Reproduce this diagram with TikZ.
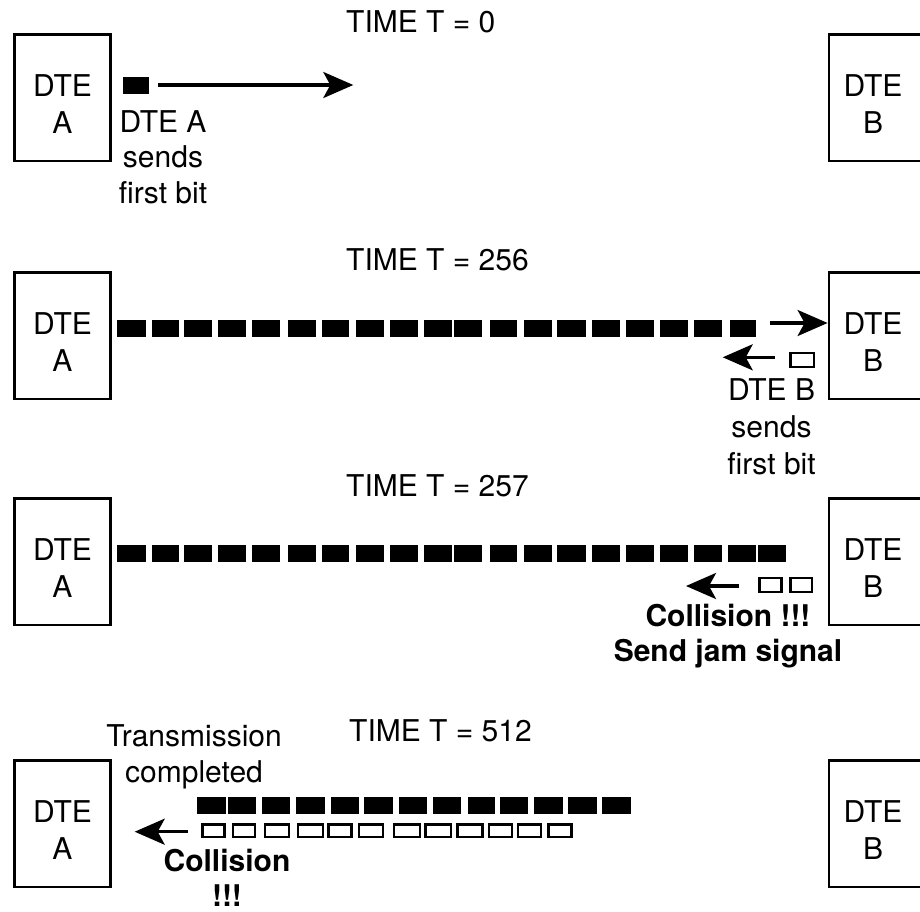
\documentclass[tikz,border=0pt]{standalone}
\usepackage{fontspec}
\setmainfont{TeX Gyre Heros}
\usetikzlibrary{arrows.meta}
\begin{document}
\begin{tikzpicture}[x=1pt,y=-1pt,
  dtebox/.style={draw, line width=2.8pt, minimum width=96pt, minimum height=126.5pt, inner sep=0pt},
  boxtxt/.style={font=\fontsize{30}{36.6}\selectfont, align=center, inner sep=0pt, anchor=base},
  lbl/.style={font=\fontsize{30}{35.5}\selectfont, align=center, inner sep=0pt, anchor=base},
  boldlbl/.style={font=\fontsize{30}{35}\selectfont\bfseries, align=center, inner sep=0pt, anchor=base},
  timelbl/.style={font=\fontsize{30}{35}\selectfont, inner sep=0pt, anchor=base west},
  bitfull/.style={fill=black},
  bithollow/.style={draw=black, line width=2.4pt, fill=white},
  sig/.style={line width=3.2pt, -{Stealth[length=30pt,width=26pt,inset=7pt]}}
]
\useasboundingbox (0,0) rectangle (920,911);
\fill[white] (0,0) rectangle (920,911);

% ---------- row 1 : T = 0
\node[timelbl] (t0) at (346,32) {TIME T = 0};
\node[dtebox] (a1) at (62.5,97.8) {};
\node[dtebox] (b1) at (877,97.8) {};
\node[boxtxt] (a1t) at (62.5,133.3) {DTE\\A};
\node[boxtxt] (b1t) at (873,133.3) {DTE\\B};
\fill[bitfull] (123,77.3) rectangle (149.3,94.3);
\coordinate (r1s) at (158.3,85);
\coordinate (r1e) at (353.3,85);
\draw[sig] (r1s) -- (r1e);
\node[lbl] (la1) at (163,203) {DTE A\\sends\\first bit};

% ---------- row 2 : T = 256
\node[timelbl] (t256) at (346,270) {TIME T = 256};
\node[dtebox] (a2) at (62.5,335.8) {};
\node[dtebox] (b2) at (877,335.8) {};
\node[boxtxt] (a2t) at (62.5,371.3) {DTE\\A};
\node[boxtxt] (b2t) at (873,371.3) {DTE\\B};
\foreach \xa/\xb in {117.3/145.7,151.7/179.3,184/211.7,217.7/245.7,251.7/280,287.7/315.7,321.7/349.3,355.7/384,390/418,424/452.3,454/481.7,490/516.7,524.3/552.3,557.3/586,591.7/620,626/654,660/687.7,694/722.3,730/756}
  \fill[bitfull] (\xa,319.5) rectangle (\xb,336.5);
\coordinate (r2s) at (770,323);
\draw[sig] (r2s) -- (r2s -| b2.west);
\draw[bithollow] (790.5,352.9) rectangle (813.8,367.1);
\coordinate (l2s) at (775,357.3);
\coordinate (l2e) at (722.7,357.3);
\draw[sig] (l2s) -- (l2e);
\node[lbl, font=\fontsize{30}{37}\selectfont] (lb2) at (771.5,474) {DTE B\\sends\\first bit};

% ---------- row 3 : T = 257
\node[timelbl] (t257) at (346,496) {TIME T = 257};
\node[dtebox] (a3) at (62.5,561.8) {};
\node[dtebox] (b3) at (877,561.8) {};
\node[boxtxt] (a3t) at (62.5,597.3) {DTE\\A};
\node[boxtxt] (b3t) at (873,597.3) {DTE\\B};
\foreach \xa/\xb in {117.3/145.7,151.7/179.3,184/211.7,217.7/245.7,251.7/280,287.7/315.7,321.7/349.3,355.7/384,390/418,424/452.3,454/481.7,490/516.7,524.3/552.3,557.3/586,591.7/620,626/654,660/687.7,694/722.3,728.3/756,758.3/786}
  \fill[bitfull] (\xa,545) rectangle (\xb,562);
\foreach \xa/\xb in {759.5/781.5,790.5/812.1}
  \draw[bithollow] (\xa,577.9) rectangle (\xb,592.1);
\coordinate (l3s) at (739.3,586);
\coordinate (l3e) at (686,586);
\draw[sig] (l3s) -- (l3e);
\node[boldlbl] (c3) at (728,661.7) {Collision !!!\\Send jam signal};

% ---------- row 4 : T = 512
\node[timelbl] (t512) at (349,741.7) {TIME T = 512};
\node[dtebox] (a4) at (62.5,823.8) {};
\node[dtebox] (b4) at (877,823.8) {};
\node[boxtxt] (a4t) at (62.5,859.3) {DTE\\A};
\node[boxtxt] (b4t) at (873,859.3) {DTE\\B};
\node[lbl] (tc4) at (194,782.2) {Transmission\\completed};
\foreach \xa/\xb in {196.9/225.6,227.7/256.1,262.4/289.9,296.3/325,330.5/358.9,364.4/392.7,399.1/426.6,432.9/461.2,467.6/495.1,499.7/528.1,534.4/562.8,568.3/596.6,602.1/630.5}
  \fill[bitfull] (\xa,797) rectangle (\xb,813.5);
\foreach \xa/\xb in {202.3/224.4,233.2/254.9,264.9/288.7,297.9/323,328.3/351.3,359.2/383.1,393.9/419.8,425.6/450.7,457.4/482.5,489.1/512.1,517.9/540.9,548.3/571.3}
  \draw[bithollow] (\xa,824.5) rectangle (\xb,837.1);
\coordinate (l4s) at (187.6,831.7);
\coordinate (l4e) at (134.7,831.7);
\draw[sig] (l4s) -- (l4e);
\node[boldlbl, font=\fontsize{30}{35}\selectfont\bfseries] (c4) at (227,906) {Collision\\!!!};
\end{tikzpicture}
\end{document}
